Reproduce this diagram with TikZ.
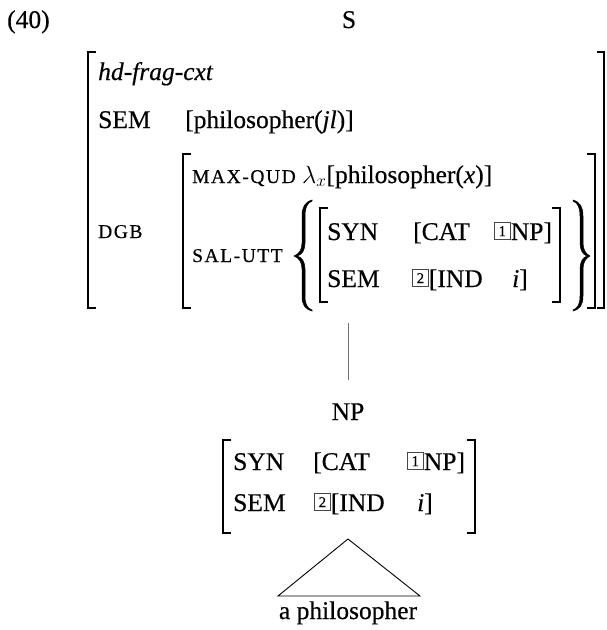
\documentclass[tikz,border=0pt]{standalone}
\usepackage{fontspec}
\setmainfont{Liberation Serif}[FakeBold=0.4]
\newfontfamily\capsfont[LetterSpace=8,FakeBold=0.4]{Liberation Serif}
\definecolor{stem}{RGB}{110,110,110}
\definecolor{tagline}{RGB}{70,70,70}

\begin{document}
\begin{tikzpicture}[x=1pt,y=-1pt,
  txt/.style={anchor=base west, inner sep=0pt, font=\fontsize{25.5}{30}\selectfont},
  ctxt/.style={txt, anchor=base},
  feat/.style={anchor=base west, inner sep=0pt, font=\capsfont\fontsize{19.5}{24}\selectfont},
  tagbox/.style={draw=tagline, line width=0.7pt, inner sep=0pt,
                 minimum width=16pt, minimum height=17pt,
                 anchor=south west, font=\fontsize{15}{15}\selectfont},
  brk/.style={line width=1.4pt},
  brace/.style={fill=black, draw=black, line width=0.5pt}
]
\useasboundingbox (0,0) rectangle (606,630);

% example number and root label
\node[txt] (exno) at (7,28) {(40)};
\node[ctxt] (root) at (349,28) {S};

% outer AVM of the mother
\draw[brk] (96,52) -- (88,52) -- (88,308) -- (96,308);
\draw[brk] (597,52) -- (604,52) -- (604,308) -- (597,308);
\node[txt] (type) at (98,80) {\itshape hd-frag-cxt};
\node[txt] (semA) at (98,128) {SEM};
\node[txt] (semAval) at (185,128) {[philosopher(\textit{jl})]};
\node[feat] (dgb) at (98,238) {DGB};

% DGB value
\draw[brk] (191,154) -- (183,154) -- (183,308) -- (191,308);
\draw[brk] (587,154) -- (595,154) -- (595,308) -- (587,308);
\node[feat] (qud) at (192,183) {MAX-QUD};
\node[txt] (qudval) at (302,183) {$\lambda_x$[philosopher(\textit{x})]};
\node[feat] (sal) at (192,262) {SAL-UTT};

% set braces around the salient utterance (thin ends, thick body)
\draw[brace] (312,200) .. controls (305,202) and (302,207) .. (302,216) -- (302,243)
  .. controls (302,250) and (299,254) .. (294,256)
  .. controls (299,258) and (302,262) .. (302,269) -- (302,296)
  .. controls (302,305) and (305,309) .. (312,311)
  -- (312,310) .. controls (307,308) and (305,304) .. (305,296) -- (305,269)
  .. controls (305,262) and (302,257) .. (297,256)
  .. controls (302,255) and (305,250) .. (305,243) -- (305,216)
  .. controls (305,208) and (307,203) .. (312,201) -- cycle;
\draw[brace] (573,200) .. controls (580,202) and (583,207) .. (583,216) -- (583,243)
  .. controls (583,250) and (586,254) .. (590,256)
  .. controls (586,258) and (583,262) .. (583,269) -- (583,296)
  .. controls (583,305) and (580,309) .. (573,311)
  -- (573,310) .. controls (578,308) and (580,304) .. (580,296) -- (580,269)
  .. controls (580,262) and (583,257) .. (587,256)
  .. controls (583,255) and (580,250) .. (580,243) -- (580,216)
  .. controls (580,208) and (578,203) .. (573,201) -- cycle;

% salient utterance AVM
\draw[brk] (328,208) -- (320,208) -- (320,302) -- (328,302);
\draw[brk] (552,208) -- (560,208) -- (560,302) -- (552,302);
\node[txt] (synB) at (327,240) {SYN};
\node[txt] (catB) at (413,240) {[CAT};
\node[tagbox] (tagB1) at (494,240) {1};
\node[txt] (npB) at (tagB1.south east) {NP]};
\node[txt] (semB) at (327,287) {SEM};
\node[tagbox] (tagB2) at (412,287) {2};
\node[txt] (indB) at (tagB2.south east) {[IND};
\node[txt] (iB) at (512,287) {\textit{i}]};

% branch to the daughter
\node[ctxt] (np) at (348,420) {NP};
\coordinate (stemtop) at (348,323);
\coordinate (stembot) at (348,380);
\draw[stem, line width=1pt] (stemtop) -- (stembot);

% daughter AVM
\draw[brk] (231,440) -- (223,440) -- (223,533) -- (231,533);
\draw[brk] (467,440) -- (475,440) -- (475,533) -- (467,533);
\node[txt] (synC) at (233,470) {SYN};
\node[txt] (catC) at (313,470) {[CAT};
\node[tagbox] (tagC1) at (407,470) {1};
\node[txt] (npC) at (tagC1.south east) {NP]};
\node[txt] (semC) at (233,511) {SEM};
\node[tagbox] (tagC2) at (314,511) {2};
\node[txt] (indC) at (tagC2.south east) {[IND};
\node[txt] (iC) at (417,511) {\textit{i}]};

% unanalysed phrase
\node[ctxt] (leaf) at (348,619) {a philosopher};
\coordinate (apex) at (348,539);
\coordinate (baseL) at (278,596);
\coordinate (baseR) at (420,596);
\draw[line width=0.9pt] (apex) -- (baseL) -- (baseR) -- cycle;
\end{tikzpicture}
\end{document}
